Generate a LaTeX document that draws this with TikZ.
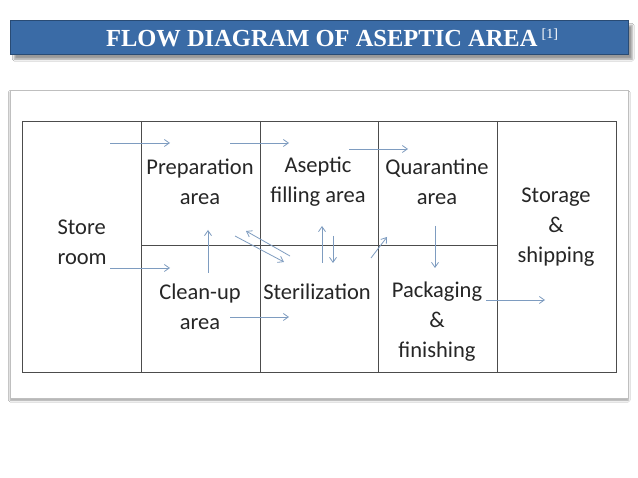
\documentclass[tikz,border=0pt]{standalone}
\usepackage{fontspec}
\setmainfont{Carlito}
\newfontfamily\titlefont{Liberation Serif}
\usetikzlibrary{arrows.meta,shadows.blur}
\definecolor{barblue}{HTML}{3A6BA6}
\definecolor{arr}{HTML}{7E9CC0}
\begin{document}
\begin{tikzpicture}[x=1pt,y=-1pt,
  lbl/.style={font=\fontsize{22.5}{30}\selectfont,align=center,text=black!85},
  flow/.style={draw=arr,line width=0.8pt,-{Straight Barb[length=5pt,width=7pt]}}]
\useasboundingbox (0,0) rectangle (638,478);
\fill[white] (0,0) rectangle (638,478);
% title bar
\node[fill=barblue,draw=barblue!70!black,minimum width=618pt,minimum height=34pt,anchor=north west,inner sep=0pt,blur shadow={shadow xshift=4pt,shadow yshift=-5pt}] (title) at (10,20) {};
\node[text=white,font=\titlefont\bfseries\fontsize{24.5}{28}\selectfont,inner sep=0pt] (tt) at (332,38) {FLOW DIAGRAM OF ASEPTIC AREA\,\raisebox{8pt}{\fontsize{14}{16}\selectfont\mdseries[1]}};
% panel
\node[fill=white,draw=black!25,minimum width=618pt,minimum height=308pt,anchor=north west,inner sep=0pt,blur shadow={shadow xshift=0pt,shadow yshift=-2pt}] (panel) at (10,90) {};
% table
\draw[black!70,line width=0.7pt] (22,121) rectangle (616,372);
\foreach \x in {141,497} \draw[black!70,line width=0.7pt] (\x,121) -- (\x,372);
\foreach \x in {260,378} \draw[black!70,line width=0.7pt] (\x,121) -- (\x,372);
\draw[black!70,line width=0.7pt] (141,245) -- (497,245);
% labels
\node[lbl,align=left,anchor=west] (store) at (54,242) {Store\\room};
\node[lbl] (prep) at (200,182) {Preparation\\area};
\node[lbl] (asep) at (318,182) {Aseptic\\filling area};
\node[lbl] (quar) at (437,182) {Quarantine\\area};
\node[lbl] (stor) at (556,227) {Storage\\\&\\shipping};
\node[lbl] (clean) at (200,307) {Clean-up\\area};
\node[lbl] (ster) at (317,292) {Sterilization};
\node[lbl] (pack) at (437,322) {Packaging\\\&\\finishing};
% arrows
\coordinate (a1) at (110,143); \coordinate (b1) at (170,143);
\coordinate (a2) at (230,143); \coordinate (b2) at (289,143);
\coordinate (a3) at (349,149); \coordinate (b3) at (408,149);
\coordinate (a4) at (110,268); \coordinate (b4) at (170,268);
\coordinate (a5) at (208,273); \coordinate (b5) at (208,230);
\coordinate (a6) at (235,236); \coordinate (b6) at (284,262);
\coordinate (a7) at (290,256); \coordinate (b7) at (246,231);
\coordinate (a8) at (322,263); \coordinate (b8) at (322,226);
\coordinate (a9) at (333,236); \coordinate (b9) at (333,263);
\coordinate (a10) at (371,258); \coordinate (b10) at (387,237);
\coordinate (a11) at (435,226); \coordinate (b11) at (435,268);
\coordinate (a12) at (230,317); \coordinate (b12) at (289,317);
\coordinate (a13) at (486,300); \coordinate (b13) at (545,300);
\foreach \i in {1,...,13} \draw[flow] (a\i) -- (b\i);
\end{tikzpicture}
\end{document}
